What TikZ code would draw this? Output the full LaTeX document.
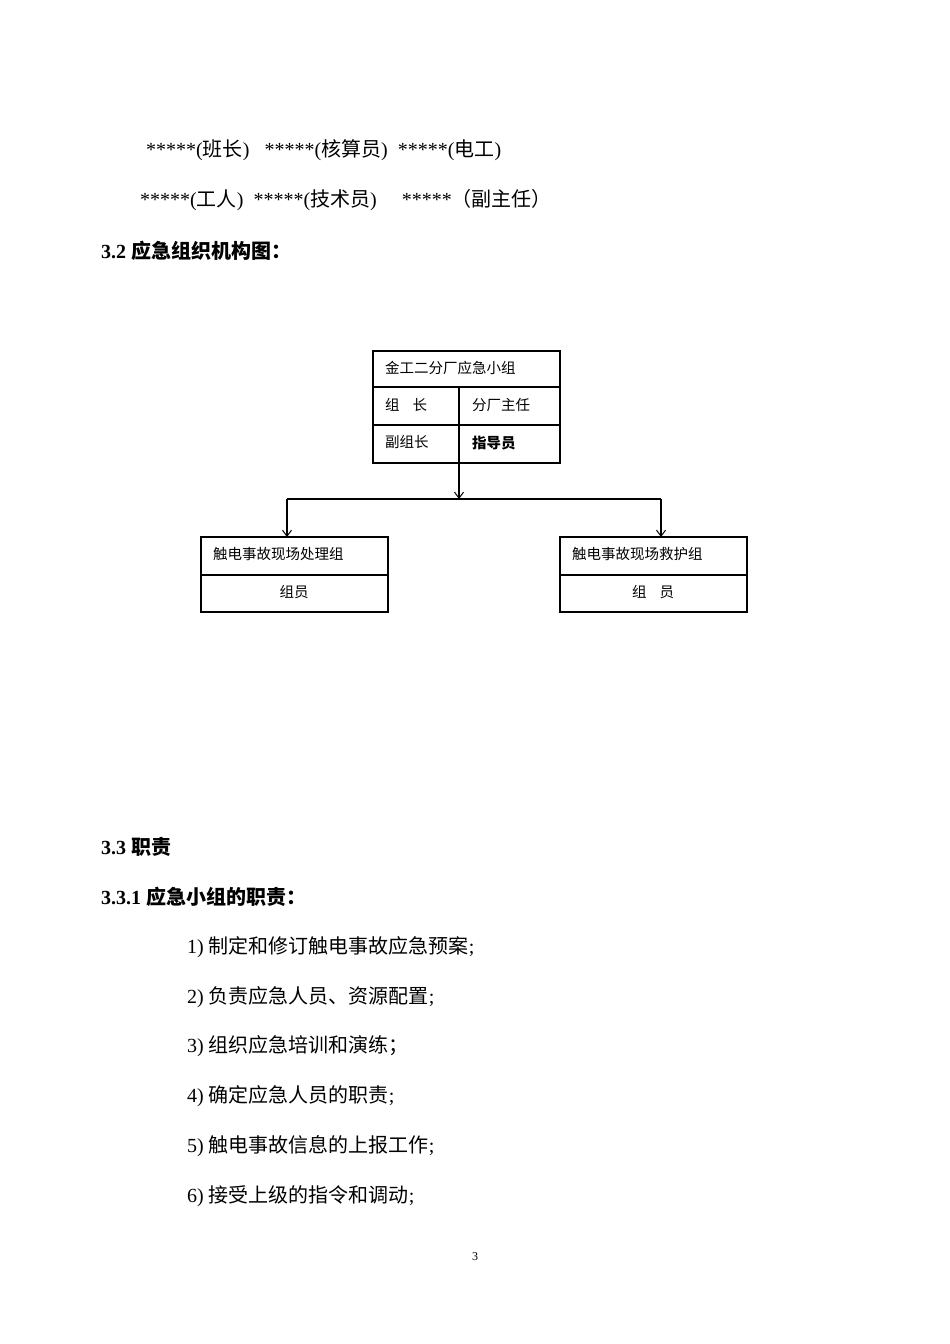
\documentclass[tikz,border=0pt]{standalone}
\usepackage{fontspec}
\setmainfont{Liberation Serif}
\newfontfamily\cjk{Noto Sans CJK SC}
\newcommand{\zh}[1]{{\cjk #1}}
\usetikzlibrary{arrows.meta}
\begin{document}
\begin{tikzpicture}[x=1pt,y=-1pt,
  body/.style={anchor=west,inner sep=0pt,font=\fontsize{20}{24}\selectfont},
  head/.style={anchor=west,inner sep=0pt,font=\fontsize{20}{24}\selectfont\bfseries},
  small/.style={inner sep=0pt,font=\fontsize{14.5}{17}\selectfont},
  box/.style={draw,line width=2.4pt},
  conn/.style={line width=2.6pt,-{Straight Barb[length=6pt,width=9pt,line width=1pt]}}]
\useasboundingbox[fill=white] (0,0) rectangle (950,1344);
\node[body] (l1) at (146,150) {*****(\zh{班长})\ \ \ *****(\zh{核算员})\ \ *****(\zh{电工})};
\node[body] (l2) at (140,200) {*****(\zh{工人})\ \ *****(\zh{技术员})\ \ \ \ \ *****\zh{（副主任）}};
\node[head] (h32) at (101,251) {3.2 \zh{应急组织机构图：}};
% top box
\draw[box] (373,351) rectangle (560,463);
\draw[box] (373,387) -- (560,387);
\draw[box] (373,425) -- (560,425);
\draw[box] (459,387) -- (459,463);
\node[small,anchor=west] (t0) at (385,368) {\zh{金工二分厂应急小组}};
\node[small,anchor=west] (t1) at (385,405) {\zh{组\ \ \ \ 长}};
\node[small,anchor=west] (t2) at (472,405) {\zh{分厂主任}};
\node[small,anchor=west] (t3) at (385,442) {\zh{副组长}};
\node[small,anchor=west] (t4) at (472,443) {\zh{\bfseries 指导员}};
\coordinate (topb) at (459,463);
\coordinate (mid) at (459,499);
\coordinate (lc) at (287,499);
\coordinate (rc) at (661,499);
\coordinate (lt) at (287,537);
\coordinate (rt) at (661,537);
\draw[conn] (topb) -- (mid);
\draw[line width=2.6pt] (lc) -- (rc);
\draw[conn] (lc) -- (lt);
\draw[conn] (rc) -- (rt);
% left box
\draw[box] (201,537) rectangle (388,612);
\draw[box] (201,575) -- (388,575);
\node[small,anchor=west] (a0) at (213,554) {\zh{触电事故现场处理组}};
\node[small] (a1) at (294,592) {\zh{组员}};
% right box
\draw[box] (560,537) rectangle (747,612);
\draw[box] (560,575) -- (747,575);
\node[small,anchor=west] (b0) at (572,554) {\zh{触电事故现场救护组}};
\node[small] (b1) at (653,592) {\zh{组\ \ \ \ 员}};
\node[head] (h33) at (101,847) {3.3 \zh{职责}};
\node[head] (h331) at (101,897) {3.3.1 \zh{应急小组的职责：}};
\node[body] (i1) at (187,947) {1) \zh{制定和修订触电事故应急预案};};
\node[body] (i2) at (187,997) {2) \zh{负责应急人员、资源配置};};
\node[body] (i3) at (187,1046) {3) \zh{组织应急培训和演练；}};
\node[body] (i4) at (187,1096) {4) \zh{确定应急人员的职责};};
\node[body] (i5) at (187,1146) {5) \zh{触电事故信息的上报工作};};
\node[body] (i6) at (187,1196) {6) \zh{接受上级的指令和调动};};
\node[inner sep=0pt,font=\fontsize{12}{14}\selectfont] (pg) at (475,1257) {3};
\end{tikzpicture}
\end{document}
